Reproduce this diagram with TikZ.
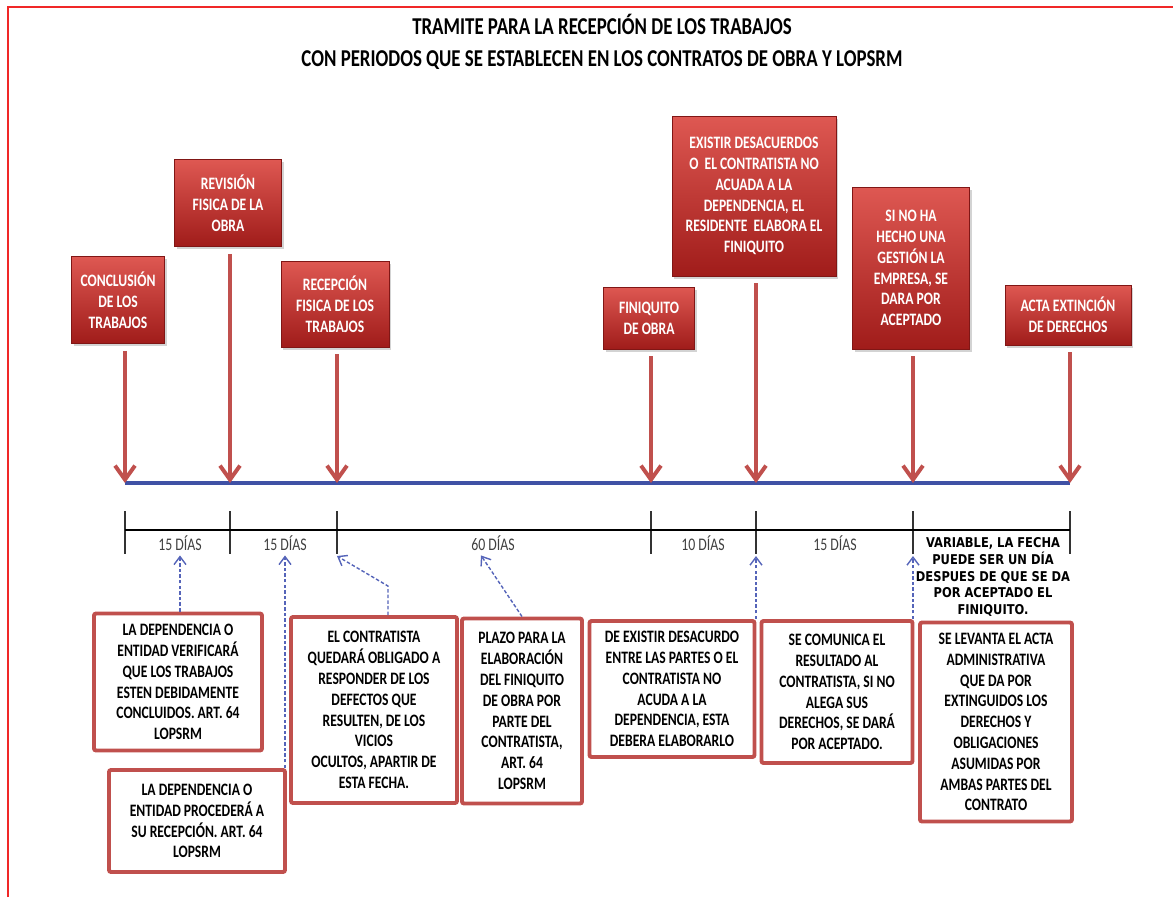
\documentclass[tikz,border=0pt]{standalone}
\usepackage{fontspec}
\usetikzlibrary{positioning, arrows.meta, shadows}
\newfontfamily\calfont{Carlito}[FakeStretch=0.78]
\newfontfamily\stampfont{DejaVu Sans}[FakeStretch=0.85]
\definecolor{framered}{RGB}{240,40,40}
\definecolor{boxred}{RGB}{192,80,77}
\definecolor{shadetop}{RGB}{222,88,82}
\definecolor{shadebot}{RGB}{160,28,26}
\definecolor{lineblue}{RGB}{63,81,165}
\definecolor{dashblue}{RGB}{85,100,185}
\tikzset{boxsize/.style 2 args={minimum width=#1*0.025cm, minimum height=#2*0.025cm},
         eventbox/.style={draw=shadebot!80!black, line width=0.4pt, top color=shadetop, bottom color=shadebot,
                          text=white, align=center, inner sep=0pt,
                          font=\calfont\bfseries\fontsize{12.4}{14.8}\selectfont,
                          drop shadow={shadow xshift=1.5pt, shadow yshift=-2pt, opacity=0.35}},
         notebox/.style={draw=boxred, line width=2.8pt, fill=white, rounded corners=1.5pt, align=center,
                         inner sep=0pt, font=\calfont\bfseries\fontsize{12.4}{14.8}\selectfont},
         daylabel/.style={font=\calfont\fontsize{12.6}{14}\selectfont, text=black!75},
         downarrow/.style={draw=boxred, line width=2.8pt, -{Straight Barb[length=3.5mm,width=5mm]}, shorten <=5pt},
         hintarrow/.style={draw=dashblue, line width=1pt, dash pattern=on 2.5pt off 1.5pt, -{Straight Barb[length=2mm,width=3mm]}},
        }
\begin{document}
\begin{tikzpicture}[x=0.025cm, y=-0.025cm]
        \useasboundingbox (0,0) rectangle (1173,897);
        \draw[framered, line width=2pt] (8,897) -- (8,7) -- (1173,7);
        \node[font=\calfont\bfseries\fontsize{17.2}{22.7}\selectfont, align=center] (title) at (602,42)
            {TRAMITE PARA LA RECEPCIÓN DE LOS TRABAJOS\\CON PERIODOS QUE SE ESTABLECEN EN LOS CONTRATOS DE OBRA Y LOPSRM};
        % events
        \node[eventbox, boxsize={93}{87}] (conclusion) at (118,300) {CONCLUSIÓN\\DE LOS\\TRABAJOS};
        \node[eventbox, boxsize={107}{87}] (revision) at (228,203) {REVISIÓN\\FISICA DE LA\\OBRA};
        \node[eventbox, boxsize={108}{86}] (recepcion) at (335,304) {RECEPCIÓN\\FISICA DE LOS\\TRABAJOS};
        \node[eventbox, boxsize={91}{62}] (finiquito) at (649,318) {FINIQUITO\\DE OBRA};
        \node[eventbox, boxsize={164}{160}] (desacuerdo) at (754,196) {EXISTIR DESACUERDOS\\O~ EL CONTRATISTA NO\\ACUADA A LA\\DEPENDENCIA, EL\\RESIDENTE~ ELABORA EL\\FINIQUITO};
        \node[eventbox, boxsize={117}{162}] (gestion) at (911,268) {SI NO HA\\HECHO UNA\\GESTIÓN LA\\EMPRESA, SE\\DARA POR\\ACEPTADO};
        \node[eventbox, boxsize={126}{60}] (acta) at (1068,315) {ACTA EXTINCIÓN\\DE DERECHOS};
        % timeline
        \foreach \n/\x in {1/125,2/230,3/337,4/651,5/756,6/913,7/1070}{
            \coordinate (p\n) at (\x,483);
            \coordinate (k\n) at (\x,556);
            \draw[line width=1pt, black!80] (\x,511) -- (\x,554);
        }
        \draw[lineblue, line width=3.5pt] (p1) -- (p7);
        \draw[line width=2pt] (125,530) -- (1070,530);
        \draw[downarrow] (conclusion.south -| p1) -- (p1);
        \draw[downarrow] (revision.south -| p2) -- (p2);
        \draw[downarrow] (recepcion.south -| p3) -- (p3);
        \draw[downarrow] (finiquito.south -| p4) -- (p4);
        \draw[downarrow] (desacuerdo.south -| p5) -- (p5);
        \draw[downarrow] (gestion.south -| p6) -- (p6);
        \draw[downarrow] (acta.south -| p7) -- (p7);
        \node[daylabel] (d1) at (180,543) {15 DÍAS};
        \node[daylabel] (d2) at (285,543) {15 DÍAS};
        \node[daylabel] (d3) at (493,543) {60 DÍAS};
        \node[daylabel] (d4) at (703,543) {10 DÍAS};
        \node[daylabel] (d5) at (835,543) {15 DÍAS};
        \node[font=\stampfont\bfseries\fontsize{9.6}{12}\selectfont, align=center] (variable) at (993,577)
            {VARIABLE, LA FECHA\\PUEDE SER UN DÍA\\DESPUES DE QUE SE DA\\POR ACEPTADO EL\\FINIQUITO.};
        % notes
        \node[notebox, boxsize={168}{137}] (verifica) at (178,682) {LA DEPENDENCIA O\\ENTIDAD VERIFICARÁ\\QUE LOS TRABAJOS\\ESTEN DEBIDAMENTE\\CONCLUIDOS. ART. 64\\LOPSRM};
        \node[notebox, boxsize={176}{102}] (procede) at (197,821) {LA DEPENDENCIA O\\ENTIDAD PROCEDERÁ A\\SU RECEPCIÓN. ART. 64\\LOPSRM};
        \node[notebox, boxsize={166}{186}] (vicios) at (374,710) {EL CONTRATISTA\\QUEDARÁ OBLIGADO A\\RESPONDER DE LOS\\DEFECTOS QUE\\RESULTEN, DE LOS\\VICIOS\\OCULTOS, APARTIR DE\\ESTA FECHA.};
        \node[notebox, boxsize={120}{185}] (plazo) at (522,711) {PLAZO PARA LA\\ELABORACIÓN\\DEL FINIQUITO\\DE OBRA POR\\PARTE DEL\\CONTRATISTA,\\ART. 64\\LOPSRM};
        \node[notebox, boxsize={165}{136}] (elabora) at (672,689) {DE EXISTIR DESACURDO\\ENTRE LAS PARTES O EL\\CONTRATISTA NO\\ACUDA A LA\\DEPENDENCIA, ESTA\\DEBERA ELABORARLO};
        \node[notebox, boxsize={151}{142}] (comunica) at (837,692) {SE COMUNICA EL\\RESULTADO AL\\CONTRATISTA, SI NO\\ALEGA SUS\\DERECHOS, SE DARÁ\\POR ACEPTADO.};
        \node[notebox, boxsize={152}{199}] (extingue) at (996,722) {SE LEVANTA EL ACTA\\ADMINISTRATIVA\\QUE DA POR\\EXTINGUIDOS LOS\\DERECHOS Y\\OBLIGACIONES\\ASUMIDAS POR\\AMBAS PARTES DEL\\CONTRATO};
        % hints
        \draw[hintarrow] (d1.south |- verifica.north) -- (d1.south);
        \draw[hintarrow] (d2.south |- procede.north) -- (d2.south);
        \draw[hintarrow] ([xshift=0.35cm]vicios.north) -- ++(0,-29) -- (k3);
        \draw[hintarrow] (plazo.north) -- ([xshift=-0.3cm]d3.south);
        \draw[hintarrow] (k5 |- elabora.north) -- (k5);
        \draw[hintarrow] (k6 |- comunica.north) -- (k6);
\end{tikzpicture}
\end{document}
